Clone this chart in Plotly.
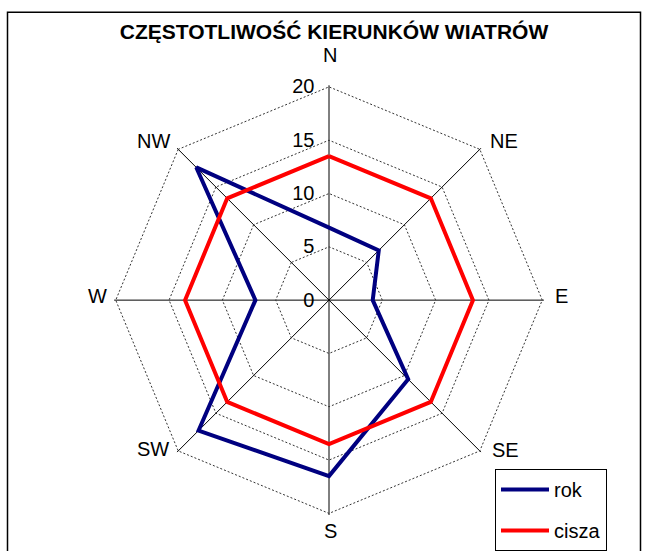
import plotly.graph_objects as go

directions = ["N", "NE", "E", "SE", "S", "SW", "W", "NW"]
rok = [6.8, 6.6, 4.1, 10.5, 16.5, 17.3, 6.9, 17.6]
cisza = [13.5, 13.5, 13.5, 13.5, 13.5, 13.5, 13.5, 13.5]
radial_ticks = [0, 5, 10, 15, 20]
radial_labels = ["0", "5", "10", "15", "20"]
title_text = "CZĘSTOTLIWOŚĆ KIERUNKÓW WIATRÓW"

W, H = 649, 551
FONT = "Liberation Sans, Arial, sans-serif"
NB = "\u00a0"

fig = go.Figure()
fig.add_trace(go.Scatterpolar(
    r=rok + rok[:1], theta=directions + directions[:1], mode="lines",
    name="rok", line=dict(color="#000080", width=4), legendgroup="a"))
fig.add_trace(go.Scatterpolar(
    r=cisza + cisza[:1], theta=directions + directions[:1], mode="lines",
    name="cisza", line=dict(color="#FF0000", width=4), legendgroup="b"))

RMAX = 20.15
cx, cy, R = 329, 304, 216 * RMAX / 20

# direction label positions (pixels)
label_pos = {"N": (330, 56), "NE": (504, 143), "E": (561, 300), "SE": (505, 456),
             "S": (330, 538), "SW": (153, 455), "W": (97, 300), "NW": (153, 143)}
annotations = []
for d in directions:
    px, py = label_pos[d]
    annotations.append(dict(text=d, x=px / W, y=1 - py / H, xref="paper", yref="paper",
                            xanchor="center", yanchor="middle", showarrow=False,
                            font=dict(family=FONT, size=20, color="black")))

fig.update_layout(
    width=W, height=H,
    margin=dict(l=0, r=0, t=0, b=0),
    paper_bgcolor="white", plot_bgcolor="white",
    font=dict(family=FONT, size=20, color="black"),
    title=dict(text="<b>" + title_text + "</b>", x=334 / W, xanchor="center",
               y=1 - 32 / H, yanchor="middle",
               font=dict(family=FONT, size=21, color="black")),
    polar=dict(
        domain=dict(x=[(cx - R) / W, (cx + R) / W],
                    y=[(H - cy - R) / H, (H - cy + R) / H]),
        gridshape="linear",
        bgcolor="white",
        radialaxis=dict(range=[0, RMAX], tickvals=radial_ticks,
                        ticktext=[t + NB + NB for t in radial_labels], angle=90,
                        side="counterclockwise", tickangle=90,
                        showline=False, ticks="",
                        gridcolor="#333333", griddash="2px,2px", gridwidth=1,
                        tickfont=dict(size=20, family=FONT)),
        angularaxis=dict(rotation=90, direction="clockwise",
                         categoryarray=directions, type="category",
                         showline=False, ticks="", showticklabels=False,
                         gridcolor="black", gridwidth=1),
    ),
    legend=dict(x=495 / W, y=1 - 475 / H, xanchor="left", yanchor="top",
                bordercolor="black", borderwidth=1, bgcolor="white",
                font=dict(size=20, family=FONT), itemwidth=48,
                tracegroupgap=12),
    showlegend=True,
    annotations=annotations,
    shapes=[dict(type="rect", xref="paper", yref="paper",
                 x0=7.5 / W, x1=640.5 / W, y0=-0.1, y1=1 - 12.5 / H,
                 line=dict(color="black", width=1.5), fillcolor="rgba(0,0,0,0)")],
)

fig.write_html("out.html", config={"displayModeBar": False})

with open("out.html", encoding="utf-8") as f:
    html = f.read()
html = html.replace("<head>", "<head><style>html,body{margin:0;padding:0;overflow:hidden;}</style>", 1)
with open("out.html", "w", encoding="utf-8") as f:
    f.write(html)
